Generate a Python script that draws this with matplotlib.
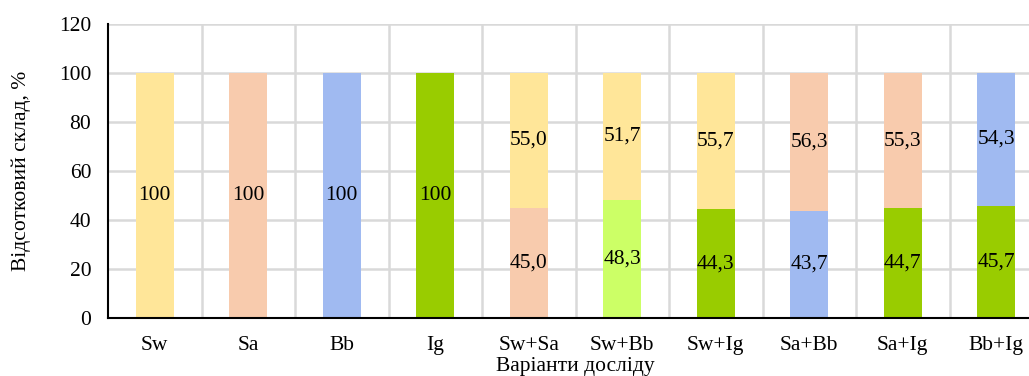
import numpy as np
import matplotlib.pyplot as plt

plt.rcParams['font.family'] = ['Liberation Serif', 'DejaVu Serif']

categories = ['Sw', 'Sa', 'Bb', 'Ig', 'Sw+Sa', 'Sw+Bb', 'Sw+Ig', 'Sa+Bb', 'Sa+Ig', 'Bb+Ig']
bottom_vals = [100, 100, 100, 100, 45.0, 48.3, 44.3, 43.7, 44.7, 45.7]
top_vals = [0, 0, 0, 0, 55.0, 51.7, 55.7, 56.3, 55.3, 54.3]
bottom_labels = ['100', '100', '100', '100', '45,0', '48,3', '44,3', '43,7', '44,7', '45,7']
top_labels = ['', '', '', '', '55,0', '51,7', '55,7', '56,3', '55,3', '54,3']

yellow = '#FFE699'
peach = '#F8CBAD'
blue = '#A0BAF1'
green = '#99CC00'
lightgreen = '#CCFF66'
bottom_colors = [yellow, peach, blue, green, peach, lightgreen, green, blue, green, green]
top_colors = [yellow, peach, blue, green, yellow, yellow, yellow, peach, peach, blue]

fs = 15.5

fig = plt.figure(figsize=(10.29, 3.76), dpi=100)
ax = fig.add_axes([108 / 1029, 1 - 318 / 376, 935 / 1029, 294 / 376])

x = np.arange(len(categories))
w = 0.41
ax.bar(x, bottom_vals, w, color=bottom_colors, zorder=3)
ax.bar(x, top_vals, w, bottom=bottom_vals, color=top_colors, zorder=3)

for i in x:
    ax.text(i, bottom_vals[i] / 2, bottom_labels[i], ha='center', va='center', fontsize=fs, zorder=4)
    if top_vals[i] > 0:
        ax.text(i, bottom_vals[i] + top_vals[i] / 2, top_labels[i], ha='center', va='center', fontsize=fs, zorder=4)

ax.set_xlim(-0.5, len(categories) - 0.5)
ax.set_ylim(0, 120)
ax.set_yticks(range(0, 121, 20))
ax.set_xticks(x)
ax.set_xticklabels(categories)
ax.set_xticks(np.arange(0.5, len(categories) - 0.5, 1), minor=True)
ax.grid(axis='y', color='#D9D9D9', linewidth=1.8, zorder=0)
ax.grid(axis='x', which='minor', color='#D9D9D9', linewidth=1.8, zorder=0)
ax.tick_params(axis='both', which='both', length=0, labelsize=fs)
ax.tick_params(axis='x', pad=13)
ax.tick_params(axis='y', pad=12)
for s in ['top', 'right']:
    ax.spines[s].set_visible(False)
ax.spines['left'].set_linewidth(1.5)
ax.spines['bottom'].set_linewidth(1.5)
ax.spines['left'].set_zorder(5)
ax.spines['bottom'].set_zorder(5)

ax.set_ylabel('Відсотковий склад, %', fontsize=fs, labelpad=20)
fig.text(575 / 1029, 1 - 367 / 376, 'Варіанти досліду', ha='center', va='center', fontsize=fs)

fig.savefig('out.png', dpi=100)
